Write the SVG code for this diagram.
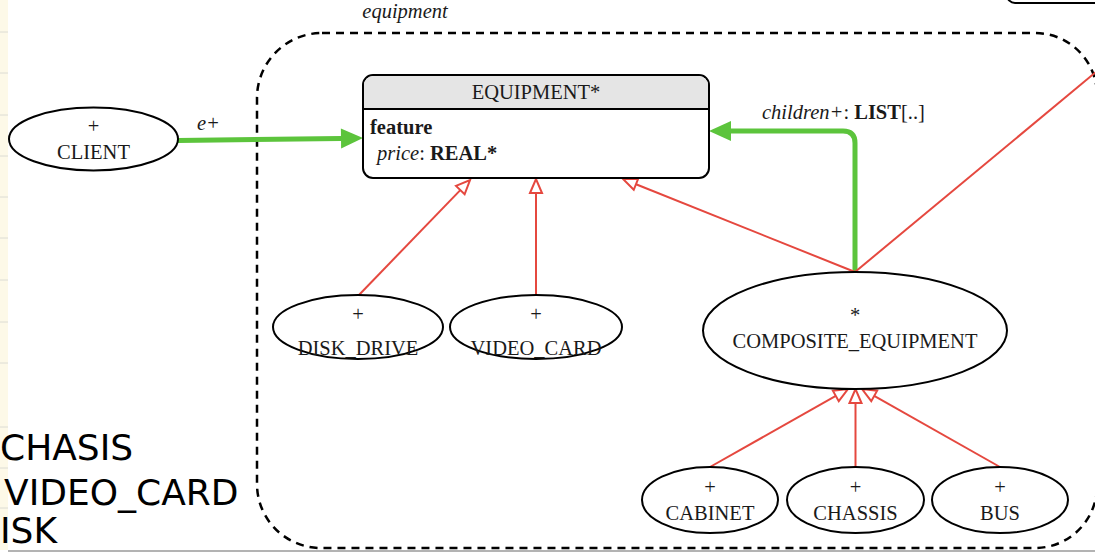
<svg xmlns="http://www.w3.org/2000/svg" width="1095" height="552" viewBox="0 0 1095 552">
  <style>
    .serif { font-family: "Liberation Serif", "Times New Roman", serif; font-size: 20.5px; fill: #1a1a1a; }
    .mid { text-anchor: middle; }
    .it { font-style: italic; }
    .bd { font-weight: bold; }
    .node { fill: #ffffff; stroke: #000000; stroke-width: 2; }
    .inherit { fill: none; stroke: #e5483f; stroke-width: 2; marker-end: url(#hollow); }
    .plain-red { fill: none; stroke: #e5483f; stroke-width: 2; }
    .assoc { fill: none; stroke: #5cc43c; stroke-width: 5; marker-end: url(#solid); }
    .cluster { fill: none; stroke: #000000; stroke-width: 2.5; stroke-dasharray: 8 6; }
    .list { font-family: "DejaVu Sans", Verdana, sans-serif; font-size: 36px; fill: #000000; }
    .rule { stroke: #dcdcd4; stroke-width: 1; }
  </style>
  <defs>
    <marker id="hollow" markerUnits="userSpaceOnUse" markerWidth="16" markerHeight="14" refX="0" refY="7" orient="auto" overflow="visible">
      <path d="M0,1 L14,7 L0,13 Z" fill="#ffffff" stroke="#e5483f" stroke-width="2"/>
    </marker>
    <marker id="solid" markerUnits="userSpaceOnUse" markerWidth="24" markerHeight="22" refX="0" refY="11" orient="auto" overflow="visible">
      <path d="M0,1 L22,11 L0,21 Z" fill="#5cc43c"/>
    </marker>
  </defs>

  <rect x="0" y="0" width="1095" height="552" fill="#ffffff"/>

  <!-- side strip with ruled lines -->
  <g id="side-strip">
    <rect x="0" y="0" width="8" height="550" fill="#fdf9e8"/>
    <path class="rule" d="M0,32H8 M0,73H8 M0,115H8 M0,156H8 M0,197H8 M0,238H8 M0,280H8 M0,322H8 M0,363H8 M0,427H8 M0,468H8 M0,508H8"/>
    <line x1="8" y1="551" x2="1095" y2="551" stroke="#9a9a9a" stroke-width="1.5"/>
  </g>

  <!-- list text at lower left -->
  <g id="side-list">
    <text class="list" x="0" y="460">CHASIS</text>
    <text class="list" x="4" y="505">VIDEO_CARD</text>
    <text class="list" x="0" y="543">ISK</text>
  </g>

  <!-- cluster: equipment -->
  <g id="cluster-equipment">
    <path class="cluster" d="M322,33 H1035 A62,62 0 0 1 1097,95 V486 A62,62 0 0 1 1035,548 H321 A64,64 0 0 1 257,484 V98 A65,65 0 0 1 322,33 Z"/>
    <text class="serif it mid" x="405" y="18">equipment</text>
  </g>

  <!-- partially visible node at the top right -->
  <g id="node-top-right">
    <rect class="node" x="1007" y="-30" width="120" height="33" rx="8"/>
  </g>

  <!-- connectors -->
  <g id="connectors">
    <!-- client to equipment -->
    <path class="assoc" d="M178,140.5 L341,138.4"/>
    <text class="serif it" x="197" y="130">e+</text>
    <!-- composite children -->
    <path class="assoc" d="M855,272 V143 Q855,131 843,131 H731"/>
    <text class="serif" x="762" y="119"><tspan class="it">children+</tspan>: <tspan class="bd">LIST</tspan>[..]</text>
    <!-- inheritance to EQUIPMENT -->
    <path class="inherit" d="M358,296 L460.3,190.1"/>
    <path class="inherit" d="M536,296 L536,193"/>
    <path class="inherit" d="M855,272 L636,184.2"/>
    <!-- inheritance to COMPOSITE_EQUIPMENT -->
    <path class="inherit" d="M710,467 L835.8,395.9"/>
    <path class="inherit" d="M855.5,467 L855.5,403"/>
    <path class="inherit" d="M1000,467 L874.2,395.9"/>
    <!-- composite to off-screen node -->
    <path class="plain-red" d="M855,272 L1120,52"/>
  </g>

  <!-- EQUIPMENT class box -->
  <g id="node-equipment">
    <rect class="node" x="363" y="75" width="346" height="103" rx="10"/>
    <path d="M364,109 V85 A9,9 0 0 1 373,76 H699 A9,9 0 0 1 708,85 V109 Z" fill="#e5e5e5"/>
    <line x1="363" y1="109" x2="709" y2="109" stroke="#000000" stroke-width="2"/>
    <text class="serif mid" x="536" y="99">EQUIPMENT*</text>
    <text class="serif bd" x="370" y="134">feature</text>
    <text class="serif" x="377" y="160"><tspan class="it">price</tspan>: <tspan class="bd">REAL*</tspan></text>
  </g>

  <g id="node-client">
    <ellipse class="node" cx="93.5" cy="139" rx="84.5" ry="31.5"/>
    <text class="serif mid" x="93.5" y="133">+</text>
    <text class="serif mid" x="93.5" y="159">CLIENT</text>
  </g>

  <g id="node-disk-drive">
    <ellipse class="node" cx="358" cy="327" rx="85" ry="32"/>
    <text class="serif mid" x="358" y="321">+</text>
    <text class="serif mid" x="358" y="355">DISK_DRIVE</text>
  </g>

  <g id="node-video-card">
    <ellipse class="node" cx="536" cy="327" rx="86" ry="32"/>
    <text class="serif mid" x="536" y="321">+</text>
    <text class="serif mid" x="536" y="355">VIDEO_CARD</text>
  </g>

  <g id="node-composite-equipment">
    <ellipse class="node" cx="855" cy="330.5" rx="152" ry="58.5"/>
    <text class="serif mid" x="855" y="322">*</text>
    <text class="serif mid" x="855" y="348">COMPOSITE_EQUIPMENT</text>
  </g>

  <g id="node-cabinet">
    <ellipse class="node" cx="710" cy="500" rx="68" ry="33"/>
    <text class="serif mid" x="710" y="494">+</text>
    <text class="serif mid" x="710" y="520">CABINET</text>
  </g>

  <g id="node-chassis">
    <ellipse class="node" cx="855.5" cy="500" rx="68.5" ry="33"/>
    <text class="serif mid" x="855.5" y="494">+</text>
    <text class="serif mid" x="855.5" y="520">CHASSIS</text>
  </g>

  <g id="node-bus">
    <ellipse class="node" cx="1000" cy="500" rx="68" ry="33"/>
    <text class="serif mid" x="1000" y="494">+</text>
    <text class="serif mid" x="1000" y="520">BUS</text>
  </g>
</svg>
